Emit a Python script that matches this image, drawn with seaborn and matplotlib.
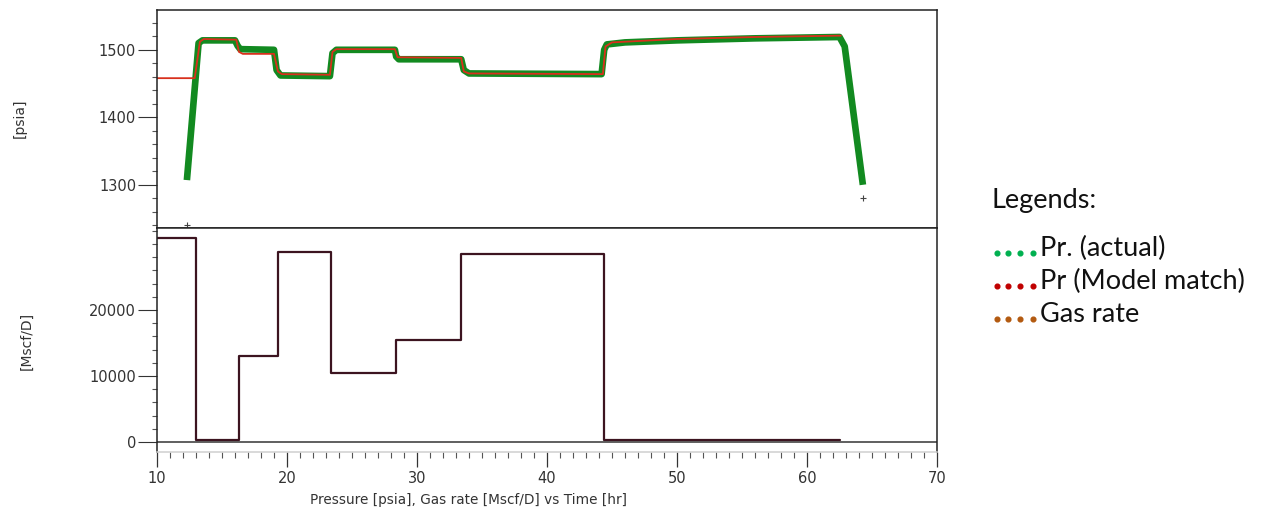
import numpy as np
import pandas as pd
import seaborn as sns
import matplotlib.pyplot as plt
from matplotlib.lines import Line2D
from matplotlib.ticker import MultipleLocator, FixedLocator

# measured pressure (actual) - time [hr], pressure [psia]
actual_t = [12.3, 13.2, 13.5, 16.0, 16.2, 16.4, 19.0, 19.2, 19.5, 23.3, 23.5, 23.8,
            28.3, 28.4, 28.6, 33.4, 33.6, 34.0, 44.2, 44.4, 44.6, 46.0, 50.0, 56.0,
            62.5, 62.9, 64.3]
actual_p = [1307, 1510, 1514, 1514, 1506, 1501, 1500, 1470, 1462, 1461, 1495, 1500,
            1500, 1490, 1486, 1486, 1470, 1465, 1464, 1500, 1508, 1511, 1514, 1517,
            1519, 1505, 1300]

# model match pressure
model_t = [10.0, 12.9, 13.3, 13.6, 16.1, 16.3, 16.6, 19.0, 19.3, 19.6, 23.3, 23.5,
           23.8, 28.3, 28.5, 33.4, 33.6, 34.0, 44.3, 44.5, 45.0, 50.0, 56.0, 62.6]
model_p = [1458, 1458, 1512, 1516, 1515, 1497, 1494, 1494, 1468, 1464, 1463, 1497,
           1501, 1501, 1489, 1488, 1468, 1465, 1464, 1505, 1511, 1516, 1519, 1521]

# gauge marks
mark_t = [12.3, 64.3]
mark_p = [1241, 1281]

# gas rate (step, post)
gas_t = [10.0, 13.0, 16.3, 19.3, 23.4, 28.4, 33.4, 44.4, 62.5]
gas_q = [30900, 300, 13000, 28800, 10450, 15450, 28500, 300, 300]

actual = pd.DataFrame({"t": actual_t, "p": actual_p})
model = pd.DataFrame({"t": model_t, "p": model_p})
gas = pd.DataFrame({"t": gas_t, "q": gas_q})

sns.set_style("white")
plt.rcParams["font.family"] = ["DejaVu Sans"]

W, H = 1261, 512
fig = plt.figure(figsize=(W / 100, H / 100), dpi=100)
left = 157 / W
width = (937 - 157) / W
ax1 = fig.add_axes([left, 1 - 228 / H, width, (228 - 10) / H])
ax2 = fig.add_axes([left, 1 - 452 / H, width, (452 - 228) / H])

# --- pressure panel
sns.lineplot(data=actual, x="t", y="p", ax=ax1, color="#128a20", lw=4.8,
             estimator=None, sort=False, solid_capstyle="butt")
sns.lineplot(data=model, x="t", y="p", ax=ax1, color="#d8301c", lw=1.3,
             estimator=None, sort=False)
ax1.plot(mark_t, mark_p, ls="none", marker="+", ms=4, color="#444444", mew=0.8)
ax1.set_xlim(10, 70)
ax1.set_ylim(1236, 1559)
ax1.yaxis.set_major_locator(FixedLocator([1300, 1400, 1500]))
ax1.yaxis.set_minor_locator(MultipleLocator(20))
ax1.tick_params(axis="x", bottom=False, labelbottom=False)
ax1.set_xlabel("")
ax1.set_ylabel("")

# --- gas rate panel
sns.lineplot(data=gas, x="t", y="q", ax=ax2, color="#3c1420", lw=1.6,
             estimator=None, sort=False, drawstyle="steps-post")
ax2.axhline(0, color="#444444", lw=1.2, zorder=0)
ax2.set_xlim(10, 70)
ax2.set_ylim(-1515, 32424)
ax2.yaxis.set_major_locator(FixedLocator([0, 10000, 20000]))
ax2.yaxis.set_minor_locator(MultipleLocator(2000))
ax2.xaxis.set_major_locator(MultipleLocator(10))
ax2.xaxis.set_minor_locator(MultipleLocator(1))
ax2.set_xlabel("")
ax2.set_ylabel("")

for ax in (ax1, ax2):
    for s in ax.spines.values():
        s.set_color("#222222")
        s.set_linewidth(1.1)
    ax.tick_params(axis="y", which="major", direction="out", length=14, width=0.8,
                   color="#333333", labelsize=10.5, labelcolor="#333333", pad=1, left=True)
    ax.tick_params(axis="y", which="minor", direction="out", length=3.6, width=0.8,
                   color="#555555", left=True)
ax2.spines["bottom"].set_color("#d0d0d0")
ax2.tick_params(axis="x", which="major", direction="out", length=11, width=0.9,
                color="#333333", labelsize=10.5, labelcolor="#333333", pad=3, bottom=True)
ax2.tick_params(axis="x", which="minor", direction="out", length=4.3, width=0.8,
                color="#555555", bottom=True)

# axis titles
fig.text(20 / W, 1 - 118 / H, "[psia]", rotation=90, ha="center", va="center",
         fontsize=10, color="#333333")
fig.text(27 / W, 1 - 341 / H, "[Mscf/D]", rotation=90, ha="center", va="center",
         fontsize=10, color="#333333")
fig.text(469 / W, 1 - 500 / H, "Pressure [psia], Gas rate [Mscf/D] vs Time [hr]",
         ha="center", va="center", fontsize=9.8, color="#333333")

# legend block on the right
leg_font = ["Lato", "DejaVu Sans"]
fig.text(992 / W, 1 - 208 / H, "Legends:", ha="left", va="baseline",
         fontsize=19.5, family=leg_font, color="#111111")
legend_rows = [("Pr. (actual)", "#00b050", 256),
               ("Pr (Model match)", "#c00000", 289),
               ("Gas rate", "#b35a10", 322)]
for label, col, base in legend_rows:
    xs = [x / W for x in (997, 1008, 1020, 1033)]
    ys = [1 - (base - 3) / H] * 4
    fig.add_artist(Line2D(xs, ys, transform=fig.transFigure, ls="none",
                          marker="o", ms=3.4, color=col))
    fig.text(1040 / W, 1 - base / H, label, ha="left", va="baseline",
             fontsize=19.5, family=leg_font, color="#111111")

fig.savefig("out.png", dpi=100)
